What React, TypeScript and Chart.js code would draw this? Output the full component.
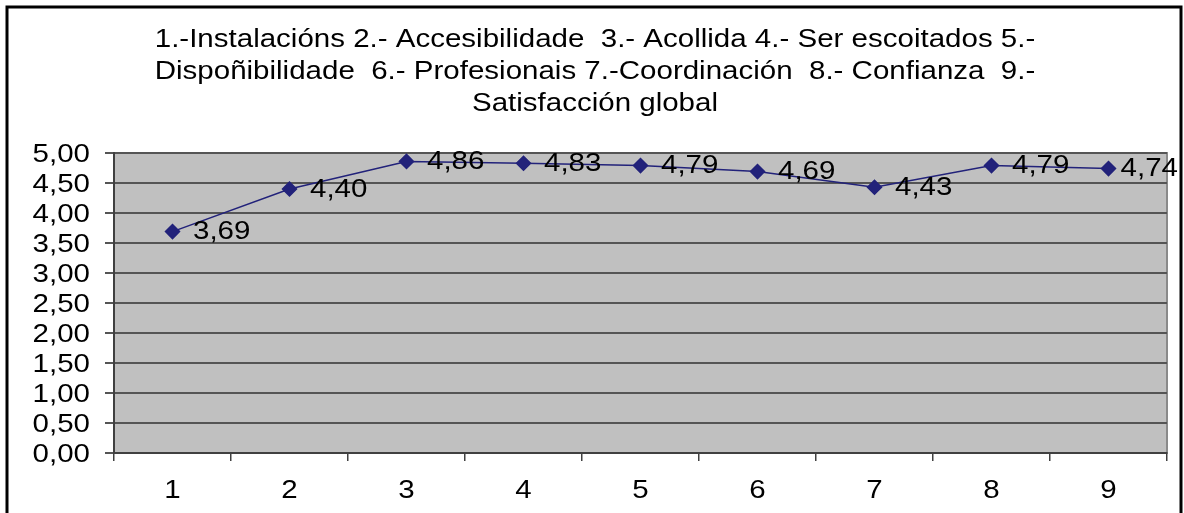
import React, { useEffect, useRef } from "react";
import { Chart, registerables } from "chart.js";

Chart.register(...registerables);

const categories = ["1", "2", "3", "4", "5", "6", "7", "8", "9"];
const values = [3.69, 4.4, 4.86, 4.83, 4.79, 4.69, 4.43, 4.79, 4.74];
const valueLabels = ["3,69", "4,40", "4,86", "4,83", "4,79", "4,69", "4,43", "4,79", "4,74"];
const yTickLabels = ["0,00", "0,50", "1,00", "1,50", "2,00", "2,50", "3,00", "3,50", "4,00", "4,50", "5,00"];
const titleLines = [
  "1.-Instalacións 2.- Accesibilidade  3.- Acollida 4.- Ser escoitados 5.-",
  "Dispoñibilidade  6.- Profesionais 7.-Coordinación  8.- Confianza  9.-",
  "Satisfacción global",
];

const FONT = "'Liberation Sans', Arial, sans-serif";
const FS = 25;
const SX = 1.18;

function drawText(ctx: CanvasRenderingContext2D, t: string, x: number, y: number, align: CanvasTextAlign) {
  ctx.save();
  ctx.translate(x, y);
  ctx.scale(SX, 1);
  ctx.textAlign = align;
  ctx.textBaseline = "alphabetic";
  ctx.fillText(t, 0, 0);
  ctx.restore();
}

export default function App() {
  const ref = useRef<HTMLCanvasElement>(null);
  useEffect(() => {
    const canvas = ref.current!;
    const framePlugin = {
      id: "frame",
      beforeDraw(chart: any) {
        const { ctx, chartArea: a } = chart;
        ctx.save();
        ctx.fillStyle = "#ffffff";
        ctx.fillRect(0, 0, chart.width, chart.height);
        ctx.fillStyle = "#c0c0c0";
        ctx.fillRect(a.left, a.top, a.right - a.left, a.bottom - a.top);
        ctx.strokeStyle = "#8a8a8a";
        ctx.lineWidth = 2;
        ctx.strokeRect(a.left, a.top, a.right - a.left, a.bottom - a.top);
        ctx.restore();
      },
      afterDraw(chart: any) {
        const { ctx } = chart;
        ctx.save();
        ctx.fillStyle = "#000";
        ctx.font = `${FS}px ${FONT}`;
        // title
        titleLines.forEach((t, i) => drawText(ctx, t, 595, 47 + i * 32, "center"));
        // y tick labels
        const ys = chart.scales.y;
        ys.ticks.forEach((tk: any) => {
          const py = ys.getPixelForValue(tk.value);
          const idx = Math.round(tk.value / 0.5);
          drawText(ctx, yTickLabels[idx] ?? "", 90, py + 8.5, "right");
        });
        // x tick labels
        const xs = chart.scales.x;
        categories.forEach((c, i) => {
          drawText(ctx, c, xs.getPixelForValue(i), 498, "center");
        });
        // data labels
        const meta = chart.getDatasetMeta(0);
        meta.data.forEach((p: any, i: number) => {
          const w = ctx.measureText(valueLabels[i]).width * SX;
          const x = Math.min(p.x + 20.5, 1178 - w);
          drawText(ctx, valueLabels[i], x, p.y + 7.5, "left");
        });
        // outer border
        ctx.strokeStyle = "#000";
        ctx.lineWidth = 3;
        ctx.strokeRect(7, 7, 1174, 530);
        ctx.restore();
      },
    };
    const chart = new Chart(canvas, {
      type: "line",
      data: {
        labels: categories,
        datasets: [
          {
            data: values,
            borderColor: "#22227a",
            backgroundColor: "#22227a",
            borderWidth: 1.5,
            pointStyle: "rectRot",
            pointRadius: 7,
            pointHoverRadius: 7,
            tension: 0,
          },
        ],
      },
      options: {
        responsive: false,
        animation: false,
        layout: { padding: { left: 0, right: 17, top: 153, bottom: 0 } },
        plugins: { legend: { display: false }, title: { display: false }, tooltip: { enabled: false } },
        scales: {
          x: {
            offset: true,
            afterFit: (s: any) => {
              s.height = 60;
            },
            grid: {
              offset: true,
              drawOnChartArea: false,
              drawTicks: true,
              tickLength: 8,
              color: "#404040",
              lineWidth: 1.5,
            },
            border: { color: "#404040", width: 2 },
            ticks: { color: "rgba(0,0,0,0)", font: { family: FONT, size: 12 }, padding: 16, maxRotation: 0, autoSkip: false },
          },
          y: {
            min: 0,
            max: 5,
            afterFit: (s: any) => {
              s.width = 114;
            },
            grid: { color: "#555555", lineWidth: 2, tickLength: 9 },
            border: { color: "#404040", width: 2 },
            ticks: {
              stepSize: 0.5,
              autoSkip: false,
              color: "rgba(0,0,0,0)",
              font: { family: FONT, size: 12 },
              padding: 14,
            },
          },
        },
      },
      plugins: [framePlugin],
    });
    return () => chart.destroy();
  }, []);
  return (
    <div style={{ position: "absolute", left: 0, top: 0, width: 1184, height: 513 }}>
      <canvas ref={ref} width={1184} height={513} style={{ width: 1184, height: 513, display: "block" }} />
    </div>
  );
}
